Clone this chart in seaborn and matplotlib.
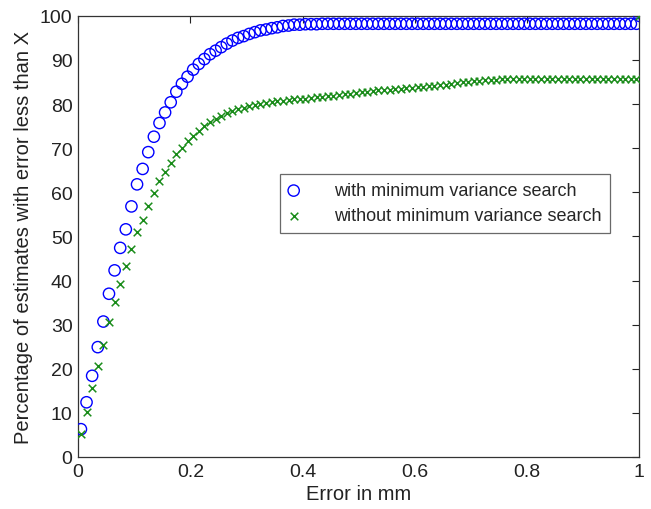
import numpy as np
import pandas as pd
import matplotlib
matplotlib.use("Agg")
import matplotlib.pyplot as plt
import seaborn as sns

# ---- data ----
error_mm = [round(0.005 + 0.01 * k, 3) for k in range(100)] + [1.0]

with_mvs = [6.3, 12.4, 18.4, 24.9, 30.7, 37.0, 42.3, 47.4, 51.6, 56.8,
            61.8, 65.3, 69.1, 72.6, 75.7, 78.1, 80.4, 82.8, 84.6, 86.2,
            87.8, 89.1, 90.2, 91.3, 92.1, 92.9, 93.7, 94.4, 95.0, 95.4,
            95.9, 96.3, 96.7, 96.9, 97.2, 97.4, 97.7, 97.8, 98.0, 98.0,
            98.1, 98.1, 98.1, 98.2, 98.2, 98.2, 98.2, 98.2, 98.2, 98.2,
            98.2, 98.2, 98.2, 98.2, 98.2, 98.2, 98.2, 98.2, 98.2, 98.2,
            98.2, 98.2, 98.2, 98.2, 98.2, 98.2, 98.2, 98.2, 98.2, 98.2,
            98.2, 98.2, 98.2, 98.2, 98.2, 98.2, 98.2, 98.2, 98.2, 98.2,
            98.2, 98.2, 98.2, 98.2, 98.2, 98.2, 98.2, 98.2, 98.2, 98.2,
            98.2, 98.2, 98.2, 98.2, 98.2, 98.2, 98.2, 98.2, 98.2, 98.2,
            100.0]

without_mvs = [5.2, 10.2, 15.6, 20.7, 25.4, 30.5, 35.1, 39.2, 43.4, 47.2,
               51.0, 53.8, 56.8, 59.9, 62.5, 64.6, 66.7, 68.6, 70.1, 71.6,
               72.7, 73.9, 75.0, 75.9, 76.7, 77.3, 77.9, 78.4, 78.8, 79.2,
               79.5, 79.8, 80.1, 80.3, 80.5, 80.7, 80.8, 80.9, 81.1, 81.1,
               81.2, 81.4, 81.5, 81.6, 81.8, 81.9, 82.0, 82.2, 82.3, 82.5,
               82.7, 82.8, 82.9, 83.1, 83.2, 83.3, 83.4, 83.5, 83.6, 83.7,
               83.8, 83.9, 84.0, 84.2, 84.3, 84.4, 84.5, 84.7, 84.9, 85.1,
               85.2, 85.3, 85.4, 85.5, 85.5, 85.6, 85.6, 85.6, 85.6, 85.6,
               85.7, 85.7, 85.7, 85.7, 85.7, 85.7, 85.7, 85.7, 85.7, 85.7,
               85.7, 85.7, 85.7, 85.7, 85.7, 85.7, 85.7, 85.7, 85.7, 85.7,
               100.0]

labels = ["with minimum variance search", "without minimum variance search"]
x_ticks = [0, 0.2, 0.4, 0.6, 0.8, 1]
x_tick_labels = ["0", "0.2", "0.4", "0.6", "0.8", "1"]
y_ticks = list(range(0, 101, 10))

df_with = pd.DataFrame({"x": error_mm, "y": with_mvs})
df_without = pd.DataFrame({"x": error_mm, "y": without_mvs})

# ---- plot ----
sns.set_style("white")
plt.rcParams["font.family"] = ["Liberation Sans", "DejaVu Sans"]

fig = plt.figure(figsize=(6.51, 5.10), dpi=100)
ax = fig.add_axes([0.12, 0.102, 0.862, 0.865])

sns.scatterplot(data=df_with, x="x", y="y", ax=ax, marker="o", s=66,
                facecolors="none", edgecolor=(0, 0, 1), linewidth=1.0,
                label=labels[0], zorder=3)
sns.scatterplot(data=df_without, x="x", y="y", ax=ax, marker="x", s=30,
                color=(0.1, 0.55, 0.1), linewidth=1.1, label=labels[1], zorder=3)

ax.set_xlim(0, 1)
ax.set_ylim(0, 100)
ax.set_xticks(x_ticks)
ax.set_xticklabels(x_tick_labels)
ax.set_yticks(y_ticks)
ax.tick_params(direction="in", length=5, width=0.8, top=True, right=True,
               labelsize=14, colors="#222222", pad=4)
for sp in ax.spines.values():
    sp.set_visible(True)
    sp.set_color("#333333")
    sp.set_linewidth(0.9)

ax.set_xlabel("Error in mm", fontsize=14.5, color="#222222", labelpad=3)
ax.set_ylabel("Percentage of estimates with error less than X", fontsize=14.5,
              color="#222222", labelpad=5)

leg = ax.legend(loc="upper left", bbox_to_anchor=(0.36, 0.641), fontsize=13,
                frameon=True, fancybox=False, edgecolor="#444444",
                borderpad=0.45, handlelength=0.6, handletextpad=1.95,
                labelspacing=0.45, borderaxespad=0.0)
leg.get_frame().set_linewidth(0.9)

fig.savefig("out.png", dpi=100)
